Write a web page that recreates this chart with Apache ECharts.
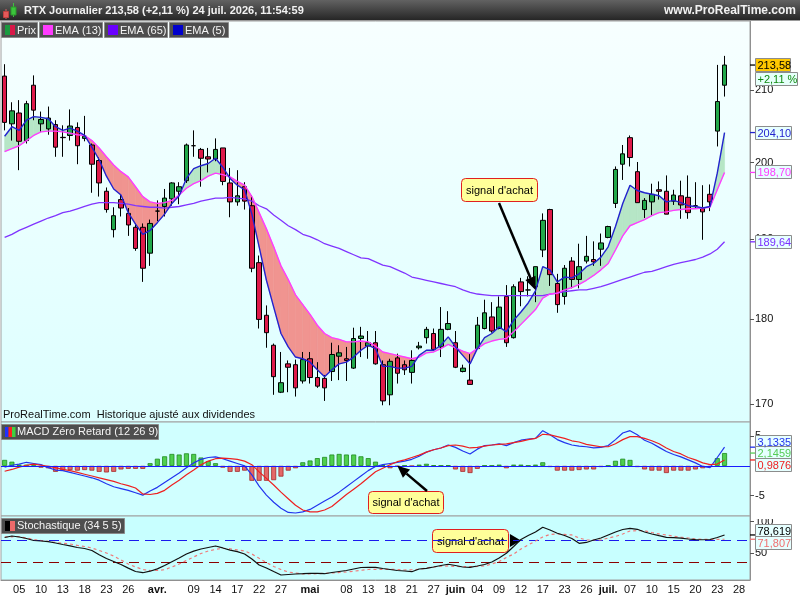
<!DOCTYPE html>
<html>
<head>
<meta charset="utf-8">
<title>RTX Journalier</title>
<script src="https://cdn.jsdelivr.net/npm/echarts@6.0.0/dist/echarts.min.js"></script>
<style>
html,body{margin:0;padding:0;background:#ffffff;}
#chart{width:800px;height:600px;}
</style>
</head>
<body>
<div id="chart"></div>
<script>
// ---------------- DATA ----------------
const dates = ['03-03','03-04','03-05','03-06','03-09','03-10','03-11','03-12','03-13','03-16','03-17','03-18','03-19','03-20','03-23','03-24','03-25','03-26','03-27','03-30','03-31',
'04-01','04-02','04-06','04-07','04-08','04-09','04-10','04-13','04-14','04-15','04-16','04-17','04-20','04-21','04-22','04-23','04-24','04-27','04-28','04-29','04-30',
'05-01','05-04','05-05','05-06','05-07','05-08','05-11','05-12','05-13','05-14','05-15','05-18','05-19','05-20','05-21','05-22','05-26','05-27','05-28','05-29',
'06-01','06-02','06-03','06-04','06-05','06-08','06-09','06-10','06-11','06-12','06-15','06-16','06-17','06-18','06-22','06-23','06-24','06-25','06-26','06-29','06-30',
'07-01','07-02','07-06','07-07','07-08','07-09','07-10','07-13','07-14','07-15','07-16','07-17','07-20','07-21','07-22','07-23','07-24','07-27','07-28','07-29'];

const tickDates = ['03-05','03-10','03-13','03-18','03-23','03-26','04-01','04-09','04-14','04-17','04-22','04-27','05-01','05-08','05-13','05-18','05-21','05-27','06-01','06-04','06-09','06-12','06-17','06-23','06-26','07-01','07-07','07-10','07-15','07-20','07-23','07-28'];
const tickTexts = ['05','10','13','18','23','26','avr.','09','14','17','22','27','mai','08','13','18','21','27','juin','04','09','12','17','23','26','juil.','07','10','15','20','23','28'];
const monthTexts = ['avr.','mai','juin','juil.'];

const open = [212.0,205.3,206.8,203.0,210.7,205.3,204.6,205.2,203.45,203.7,
 204.8,203.3,202.4,200.3,196.2,191.2,195.1,193.3,191.5,191.5,
 188.2,193.6,194.2,195.2,196.2,197.6,202.3,201.8,200.8,200.5,
 202.0,197.3,194.8,196.8,194.3,187.0,180.5,176.9,171.4,174.7,
 174.6,172.7,175.3,173.1,173.0,173.8,175.6,175.3,174.2,177.7,
 176.8,177.2,174.6,171.1,175.4,174.6,173.7,176.6,177.8,178.3,
 176.7,178.8,177.2,173.8,172.8,176.5,178.9,180.3,178.9,182.8,
 177.8,184.6,183.6,184.0,188.6,193.8,184.4,182.8,187.2,184.9,
 187.2,187.4,188.7,190.2,194.6,199.8,203.4,198.8,193.8,194.8,
 196.4,196.2,194.9,195.6,195.4,194.3,194.0,195.8,204.3,210.7];
const high = [213.7,208.3,208.6,208.5,212.1,207.0,207.7,205.8,205.1,207.3,
 205.5,206.4,202.6,200.7,196.7,194.1,195.7,194.0,192.0,192.0,
 192.5,195.0,196.5,197.4,197.4,202.6,204.4,202.0,202.0,203.3,
 202.0,199.3,199.0,197.4,195.7,187.9,181.7,177.1,176.1,175.1,
 175.2,176.1,176.1,174.9,173.4,177.2,176.9,176.7,179.0,179.1,
 178.6,178.6,175.1,175.3,175.9,175.1,176.3,177.3,179.1,178.9,
 181.5,181.0,178.6,174.6,175.9,180.3,182.4,182.1,182.8,184.2,
 184.3,185.1,185.3,186.5,193.3,193.9,185.6,186.7,187.7,189.4,
 190.4,189.7,190.7,191.7,199.5,202.4,203.7,200.1,195.3,197.2,
 197.5,198.3,196.4,197.6,198.3,197.4,197.0,197.1,213.6,214.9];
const low = [204.4,203.0,199.0,202.6,205.8,204.2,203.8,200.8,200.8,203.0,
 199.8,202.9,196.0,195.5,193.4,190.2,192.9,190.4,188.5,184.6,
 186.6,192.3,192.9,194.3,194.5,197.3,200.8,196.8,198.7,200.2,
 197.0,192.8,194.3,193.8,185.8,178.9,176.6,171.1,171.3,171.4,
 170.9,172.4,172.4,171.9,170.4,172.7,172.8,172.7,174.1,175.5,
 175.3,174.6,169.9,169.9,172.4,173.4,172.4,176.4,177.1,176.3,
 175.5,178.7,174.2,173.7,172.3,176.5,178.8,178.4,178.8,176.7,
 177.7,181.6,182.8,182.1,187.7,184.1,180.8,181.8,183.8,183.8,
 186.9,186.6,186.6,190.1,194.0,197.7,199.5,194.7,192.7,193.1,
 195.1,193.2,194.4,192.6,192.6,194.0,189.9,193.6,202.2,209.1];
const close = [205.5,207.1,202.9,208.1,207.2,205.9,206.1,202.1,203.4,205.0,
 202.3,203.6,199.8,197.3,193.8,193.0,194.0,191.8,188.8,186.3,
 192.0,193.6,195.3,197.3,196.8,202.4,202.3,200.6,200.5,201.8,
 197.5,194.8,195.6,194.9,186.3,180.0,178.4,173.2,172.5,174.3,
 171.9,175.2,173.1,172.1,171.9,175.8,176.0,175.1,177.7,178.0,
 177.2,174.7,170.4,175.0,173.6,174.0,175.1,176.8,178.8,176.4,
 178.8,179.5,174.3,174.2,172.3,179.3,180.8,178.6,181.5,177.2,
 184.0,183.4,183.6,186.5,192.4,185.5,181.8,186.3,184.9,186.5,
 187.8,187.1,189.5,191.6,199.1,201.2,200.7,194.7,195.0,195.8,
 196.2,193.2,195.7,194.4,193.4,194.3,193.5,194.8,208.4,213.58];
const changePct = 2.11;

const ema5 = [203.6,204.9,204.4,205.8,206.3,206.2,206.0,204.9,204.4,204.7,
 204.3,203.7,202.1,200.4,198.2,196.5,195.7,193.4,191.9,190.6,
 191.1,192.1,193.2,194.6,195.6,197.9,199.2,199.6,199.9,200.6,
 199.4,197.9,197.0,196.4,193.2,189.0,184.8,181.5,178.3,176.7,
 175.5,175.3,174.9,174.0,173.2,174.0,174.7,174.9,175.5,176.3,
 176.9,176.5,174.4,174.4,174.2,174.2,174.4,175.7,176.3,176.3,
 176.9,177.9,176.7,175.7,174.7,176.5,177.8,178.3,179.1,178.5,
 179.9,180.9,182.0,183.5,186.5,186.1,184.6,185.2,185.1,185.6,
 186.5,186.9,187.7,189.0,191.6,194.6,197.0,196.3,196.0,195.8,
 195.6,194.8,195.0,194.7,194.3,194.2,194.0,194.2,198.6,204.10];
const ema13 = [201.5,201.9,202.3,203.0,203.7,204.2,204.3,204.3,204.2,204.0,
 203.8,203.7,203.0,202.0,200.8,199.7,198.8,198.1,196.8,195.5,
 194.8,194.6,194.7,195.0,195.7,196.6,197.2,197.6,198.2,198.6,
 198.4,198.1,197.5,197.0,195.5,193.4,191.3,189.0,186.6,184.9,
 183.0,181.8,180.6,179.3,178.3,177.8,177.6,177.3,177.3,177.4,
 177.3,176.8,176.1,175.9,175.7,175.5,175.3,175.5,176.0,176.1,
 176.5,177.0,176.6,176.2,175.9,176.5,177.1,177.4,177.6,177.7,
 178.5,179.4,180.3,181.2,182.6,183.1,183.2,183.6,183.9,184.3,
 184.8,185.4,186.1,186.9,188.6,190.4,191.7,192.1,192.5,193.0,
 193.4,193.5,193.7,193.8,193.9,193.9,194.0,194.1,196.4,198.70];
const ema65 = [190.2,190.6,191.1,191.5,191.9,192.3,192.7,193.0,193.4,193.6,
 193.9,194.2,194.5,194.7,194.7,194.7,194.6,194.5,194.3,194.2,
 194.1,194.1,194.0,194.1,194.2,194.4,194.6,194.9,195.1,195.3,
 195.3,195.4,195.3,195.2,194.9,194.3,193.9,193.1,192.4,191.7,
 191.2,190.6,190.3,189.9,189.4,189.1,188.8,188.4,188.0,187.6,
 187.5,187.1,186.7,186.5,186.1,185.7,185.2,185.0,184.8,184.6,
 184.4,184.2,184.0,183.6,183.3,183.1,183.0,182.9,182.9,182.9,
 182.9,182.9,182.9,182.9,182.9,183.1,183.2,183.4,183.5,183.6,
 183.6,183.8,184.0,184.3,184.6,184.9,185.2,185.5,185.8,185.9,
 186.2,186.5,186.8,187.0,187.2,187.4,187.7,188.1,188.7,189.64];

const macd = [-0.2,0.1,0.3,0.6,0.4,0.2,-0.3,-0.7,-0.8,-1.1,
 -1.4,-1.7,-2.0,-2.4,-3.0,-3.5,-3.8,-4.1,-4.5,-4.9,
 -4.2,-3.6,-2.8,-2.0,-1.2,-0.3,0.5,1.1,1.4,1.5,
 1.2,0.8,0.4,0.0,-1.5,-3.4,-4.9,-6.1,-7.1,-7.8,
 -7.9,-7.7,-7.3,-6.6,-5.9,-5.2,-4.4,-3.5,-2.6,-1.7,
 -0.8,-0.1,0.2,0.4,0.6,0.8,1.1,1.6,2.3,2.7,
 3.0,3.5,3.1,2.5,2.0,2.8,3.4,3.5,3.7,3.4,
 3.9,4.3,4.5,4.6,5.9,5.2,4.4,3.9,3.5,3.3,
 3.2,3.0,3.1,3.4,4.4,5.5,5.9,5.2,4.3,3.8,
 3.1,2.4,1.9,1.5,1.0,0.5,-0.1,-0.3,1.4,3.1335];
const signal = [-0.9,-0.6,-0.2,0.1,0.3,0.1,-0.1,-0.3,-0.6,-0.8,
 -1.1,-1.4,-1.7,-2.0,-2.3,-2.6,-3.0,-3.3,-3.7,-4.7,
 -4.8,-4.6,-4.1,-3.2,-2.4,-1.5,-0.7,0.2,0.8,1.2,
 1.3,1.2,1.1,0.8,0.2,-1.0,-2.1,-3.2,-4.4,-5.5,
 -6.6,-7.4,-7.7,-7.7,-7.4,-6.8,-5.8,-4.8,-3.9,-3.0,
 -2.0,-1.0,-0.4,0.2,0.7,1.0,1.4,1.8,2.3,2.7,
 3.0,3.4,3.5,3.3,3.0,3.1,3.3,3.5,3.6,3.7,
 3.9,4.1,4.4,4.6,5.3,5.2,4.9,4.6,4.2,4.0,
 3.6,3.4,3.2,3.2,3.7,4.4,4.9,4.9,4.6,4.2,
 3.7,3.0,2.4,2.0,1.4,1.0,0.5,0.2,0.3,0.9876];
const hist = [1.0,0.7,0.2,0.2,0.3,-0.3,-0.4,-1.0,-0.8,-0.7,
 -0.8,-0.7,-0.8,-1.0,-1.1,-1.0,-0.6,-0.5,-0.5,-0.5,
 0.45,1.2,1.6,2.0,1.9,2.1,2.0,1.4,0.8,0.45,
 -0.3,-1.0,-1.0,-0.8,-2.5,-2.5,-2.5,-2.4,-1.8,-0.8,
 -0.4,0.6,0.9,1.3,1.5,1.9,2.0,1.9,1.9,1.6,
 1.3,0.7,0.1,-0.4,-0.1,0.05,-0.05,0.2,0.35,0.1,
 0.05,0.1,-0.6,-1.0,-1.2,-0.5,0.05,0.05,0.2,-0.4,
 0.2,0.2,0.05,0.2,0.6,-0.2,-0.8,-0.8,-0.8,-0.7,
 -0.6,-0.6,-0.2,0.05,0.85,1.2,1.0,-0.2,-0.6,-0.8,
 -0.8,-1.2,-0.8,-0.8,-0.8,-0.6,-0.4,-0.2,1.3,2.1459];

const stochK = [74.6,77.0,75.4,73.0,69.8,69.0,67.9,65.9,63.5,61.4,
 58.7,57.1,54.0,47.3,41.3,36.5,31.7,26.0,20.6,18.7,
 21.1,24.8,30.2,36.2,42.1,48.4,52.9,56.3,58.7,61.1,
 58.0,54.5,52.2,48.4,40.5,31.0,26.2,20.6,15.1,15.9,
 16.7,17.1,17.8,17.5,17.1,19.0,20.6,22.2,24.6,27.0,
 27.3,27.3,25.4,23.8,22.2,21.4,20.3,24.6,25.7,27.8,
 30.2,32.1,30.2,27.8,27.3,29.4,31.7,35.7,42.1,49.5,
 60.3,71.4,77.8,83.3,90.8,86.5,81.3,77.8,73.0,65.4,
 66.7,70.6,73.8,78.6,83.3,87.3,89.2,87.6,83.3,80.2,
 77.5,74.9,74.3,73.5,72.2,71.1,71.0,71.4,74.6,78.619];
const stochD = [75.4,75.7,75.9,73.8,71.4,69.8,68.3,66.7,65.4,64.3,
 62.2,60.3,57.9,54.0,50.0,45.2,38.9,32.5,27.8,23.8,
 22.2,22.2,23.5,27.8,32.5,38.1,43.7,49.2,53.2,55.6,
 57.5,56.7,54.8,53.2,48.4,41.6,34.9,28.6,23.8,19.8,
 18.3,16.7,16.7,17.1,17.8,18.3,19.0,19.8,21.0,22.5,
 23.8,24.1,24.1,24.1,23.8,23.0,23.5,24.1,26.2,27.8,
 29.0,29.4,28.6,28.3,28.3,28.6,29.4,32.5,36.5,42.9,
 48.4,56.3,62.7,69.0,75.4,79.4,80.2,79.4,78.6,73.8,
 70.6,70.6,70.6,73.8,76.2,80.2,84.9,85.4,85.4,82.5,
 80.2,78.6,76.5,75.1,73.8,72.2,71.7,71.7,71.7,71.807];
const stochLevels = [70, 36];

const priceTicks = [170, 180, 190, 200, 210];
const macdTicks = [5, -5];
const stochTicks = [50, 100];

// ---------------- CHART ----------------
const FONT = '"Liberation Sans", Arial, Helvetica, sans-serif';
const L = Math.log;
const GREEN_FILL = '#b6e6c6', RED_FILL = '#f09490';
const C_EMA5 = '#2323cf', C_EMA13 = '#ff3cff', C_EMA65 = '#8034ff';
const C_MACD = '#2233ee', C_SIG = '#ee2020', C_HIST = '#4fcf4f';
const chart = echarts.init(document.getElementById('chart'), null, {renderer: 'canvas', width: 800, height: 600});

const candleData = open.map((o, i) => [L(o), L(close[i]), L(low[i]), L(high[i])]);
const fillData = ema5.slice(0, -1).map((v, i) => [i, L(v), L(ema13[i])]);

function fillItem(params, api) {
  const i = api.value(0);
  const a5 = api.coord([i, L(ema5[i])]), b5 = api.coord([i + 1, L(ema5[i + 1])]);
  const a13 = api.coord([i, L(ema13[i])]), b13 = api.coord([i + 1, L(ema13[i + 1])]);
  const d0 = ema5[i] - ema13[i], d1 = ema5[i + 1] - ema13[i + 1];
  const col = d => d >= 0 ? GREEN_FILL : RED_FILL;
  const st = c => ({fill: c, stroke: c, lineWidth: 0.6});
  if (d0 * d1 >= 0) {
    const s = d0 !== 0 ? d0 : d1;
    return {type: 'polygon', shape: {points: [a5, b5, b13, a13]}, style: st(col(s))};
  }
  const t = d0 / (d0 - d1);
  const c = [a5[0] + t * (b5[0] - a5[0]), a5[1] + t * (b5[1] - a5[1])];
  return {type: 'group', children: [
    {type: 'polygon', shape: {points: [a5, c, a13]}, style: st(col(d0))},
    {type: 'polygon', shape: {points: [c, b5, b13]}, style: st(col(d1))}
  ]};
}

const GRID_L = 1, GRID_R = 50;
const grids = [
  {left: GRID_L, right: GRID_R, top: 21, height: 401, show: true,
   backgroundColor: {type: 'linear', x: 0, y: 0, x2: 0, y2: 1, colorStops: [{offset: 0, color: '#f7ffff'}, {offset: 1, color: '#dcffff'}]},
   borderColor: '#a0a0a0', borderWidth: 1},
  {left: GRID_L, right: GRID_R, top: 422, height: 94, show: true, backgroundColor: '#d0ffff', borderColor: '#a0a0a0', borderWidth: 1},
  {left: GRID_L, right: GRID_R, top: 516, height: 64, show: true, backgroundColor: '#c8ffff', borderColor: '#a0a0a0', borderWidth: 1}
];

const xAxes = [0, 1, 2].map(k => ({
  type: 'category', gridIndex: k, data: dates, boundaryGap: true,
  axisLine: {show: k === 2, lineStyle: {color: '#909090'}},
  axisTick: {show: false},
  splitLine: {show: false},
  axisLabel: k === 2 ? {
    show: true, margin: 4, fontSize: 11, fontFamily: FONT, color: '#111',
    interval: (idx, val) => tickDates.indexOf(val) >= 0,
    formatter: (val) => {
      const t = tickTexts[tickDates.indexOf(val)];
      return monthTexts.indexOf(t) >= 0 ? '{b|' + t + '}' : t;
    },
    rich: {b: {fontWeight: 'bold', fontSize: 11, fontFamily: FONT, color: '#111'}}
  } : {show: false}
}));

function yAxisBase(k, min, max, ticks, fmt) {
  return {
    type: 'value', gridIndex: k, position: 'right', min: min, max: max,
    axisLine: {show: true, lineStyle: {color: '#909090'}},
    splitLine: {show: false},
    axisTick: {show: true, customValues: ticks, length: 4, lineStyle: {color: '#555'}},
    axisLabel: {customValues: ticks, formatter: fmt, color: '#111', fontSize: 11, fontFamily: FONT, margin: 5}
  };
}

const yAxes = [
  yAxisBase(0, L(168), L(220), priceTicks.map(L), v => String(Math.round(Math.exp(v)))),
  yAxisBase(1, -8.4, 7.35, macdTicks, v => String(Math.round(v))),
  yAxisBase(2, 7.14, 108.7, stochTicks, v => String(Math.round(v)))
];

const lineS = (name, data, color, xi, yi, extra) => Object.assign({
  name: name, type: 'line', xAxisIndex: xi, yAxisIndex: yi, data: data,
  symbol: 'none', showSymbol: false, silent: true, z: 4,
  lineStyle: {color: color, width: 1.4}
}, extra || {});

const option = {
  animation: false,
  backgroundColor: '#ffffff',
  grid: grids,
  xAxis: xAxes,
  yAxis: yAxes,
  series: [
    {type: 'custom', name: 'fill', xAxisIndex: 0, yAxisIndex: 0, data: fillData, renderItem: fillItem,
     encode: {x: 0, y: [1, 2]}, silent: true, z: 1, clip: true},
    {type: 'candlestick', name: 'Prix', xAxisIndex: 0, yAxisIndex: 0, data: candleData, barWidth: 5, silent: true, z: 3,
     itemStyle: {color: '#22a84a', color0: '#de1a4a', borderColor: '#000', borderColor0: '#000', borderColorDoji: '#000', borderWidth: 1}},
    lineS('EMA (65)', ema65.map(L), C_EMA65, 0, 0, {lineStyle: {color: C_EMA65, width: 1.3}}),
    lineS('EMA (13)', ema13.map(L), C_EMA13, 0, 0),
    lineS('EMA (5)', ema5.map(L), C_EMA5, 0, 0),
    {type: 'bar', name: 'hist', xAxisIndex: 1, yAxisIndex: 1, barWidth: 5, silent: true, z: 2,
     data: hist.map(v => ({value: v, itemStyle: v >= 0 ? {color: C_HIST, borderColor: '#1f8a1f', borderWidth: 0.8} : {color: '#e46868', borderColor: '#a32828', borderWidth: 0.8}})),
     markLine: {silent: true, symbol: 'none', label: {show: false}, lineStyle: {color: '#1a1aff', width: 1.2, type: 'solid'}, data: [{yAxis: 0}]}},
    lineS('MACD', macd, C_MACD, 1, 1, {lineStyle: {color: C_MACD, width: 1.2}}),
    lineS('Signal', signal, C_SIG, 1, 1, {lineStyle: {color: C_SIG, width: 1.2}}),
    lineS('%D', stochD, '#f07878', 2, 2, {lineStyle: {color: '#f07878', width: 1.2, type: [3, 3]}}),
    lineS('%K', stochK, '#111111', 2, 2, {lineStyle: {color: '#111111', width: 1.2},
      markLine: {silent: true, symbol: 'none', label: {show: false}, z: 3,
        data: [{yAxis: stochLevels[0], lineStyle: {color: '#1a1aee', width: 1, type: [10, 6]}},
               {yAxis: stochLevels[1], lineStyle: {color: '#8b0000', width: 1, type: [10, 6]}}]}})
  ]
};
chart.setOption(option);

// ---------------- DECORATIONS ----------------
const g = [];
function rect(x, y, w, h, fill, stroke, z, r) {
  return {type: 'rect', shape: {x: x, y: y, width: w, height: h, r: r || 0}, style: {fill: fill, stroke: stroke || null, lineWidth: stroke ? 1 : 0}, z: z == null ? 10 : z, silent: true};
}
function text(x, y, t, fill, font, align, z) {
  return {type: 'text', x: x, y: y, style: {text: t, fill: fill, font: font, align: align || 'left', verticalAlign: 'middle'}, z: z == null ? 11 : z, silent: true};
}
function line(x1, y1, x2, y2, color, w, z) {
  return {type: 'line', shape: {x1: x1, y1: y1, x2: x2, y2: y2}, style: {stroke: color, lineWidth: w || 1}, z: z == null ? 12 : z, silent: true};
}
function poly(points, fill, z) {
  return {type: 'polygon', shape: {points: points}, style: {fill: fill}, z: z == null ? 12 : z, silent: true};
}
function arrowHead(tip, from, len, hw) {
  const dx = tip[0] - from[0], dy = tip[1] - from[1];
  const d = Math.sqrt(dx * dx + dy * dy);
  const ux = dx / d, uy = dy / d;
  const bx = tip[0] - ux * len, by = tip[1] - uy * len;
  return [tip, [bx - uy * hw, by + ux * hw], [bx + uy * hw, by - ux * hw]];
}
const fmt = (v, n) => v.toFixed(n).replace('.', ',');

// title bar
g.push({type: 'rect', shape: {x: 0, y: 0, width: 800, height: 20},
  style: {fill: new echarts.graphic.LinearGradient(0, 0, 0, 1, [{offset: 0, color: '#626262'}, {offset: 1, color: '#262626'}])}, z: 10, silent: true});
g.push(rect(0, 20, 800, 1, '#9a9a9a', null, 10));
g.push(line(6, 9, 6, 19, '#d86060', 1, 12));
g.push(rect(3.5, 11.5, 5, 6, '#e25a5a', '#c04040', 12));
g.push(line(13.5, 3, 13.5, 17, '#40c040', 1, 12));
g.push(rect(11, 7, 5, 8, '#3cc43c', '#2a9a2a', 12));
g.push(text(24, 10.5, 'RTX Journalier ' + fmt(close[close.length - 1], 2) + ' (+' + fmt(changePct, 2) + ' %) 24 juil. 2026, 11:54:59', '#f2f2f2', 'bold 11px ' + FONT, 'left', 12));
g.push(text(796, 10.5, 'www.ProRealTime.com', '#f2f2f2', 'bold 12px ' + FONT, 'right', 12));

// legend boxes
const legendItems = [
  {x: 1, w: 36, label: 'Prix', icon: ['#1a9a40', '#d81848']},
  {x: 39, w: 63, label: 'EMA (13)', icon: [C_EMA13]},
  {x: 104, w: 63, label: 'EMA (65)', icon: ['#6a00ff']},
  {x: 169, w: 59, label: 'EMA (5)', icon: ['#0000cc']}
];
legendItems.forEach(it => {
  g.push(rect(it.x + 0.5, 22.5, it.w, 15, '#4e4e4e', '#8a8a8a', 10));
  if (it.icon.length === 2) {
    g.push(rect(it.x + 4, 25, 5, 10, it.icon[0], null, 11));
    g.push(rect(it.x + 9, 25, 5, 10, it.icon[1], null, 11));
  } else {
    g.push(rect(it.x + 4, 25, 10, 10, it.icon[0], null, 11));
  }
  g.push(text(it.x + 16, 30.5, it.label, '#f4f4f4', '11px ' + FONT, 'left', 11));
});

g.push(text(3, 415, 'ProRealTime.com  Historique ajusté aux dividendes', '#111', '11px ' + FONT, 'left', 6));

// MACD label
g.push(rect(1.5, 424.5, 157, 15, '#4e4e4e', '#8a8a8a', 10));
g.push(rect(5, 427, 3.5, 10, '#2030ff', null, 11));
g.push(rect(8.5, 427, 3.5, 10, '#ff2020', null, 11));
g.push(rect(12, 427, 3.5, 10, '#40d040', null, 11));
g.push(text(17, 432, 'MACD Zéro Retard (12 26 9)', '#f4f4f4', '11px ' + FONT, 'left', 11));

// Stoch label
g.push(rect(1.5, 518.5, 123, 15, '#4e4e4e', '#8a8a8a', 10));
g.push(rect(5, 521, 5, 10, '#000000', null, 11));
g.push(rect(10, 521, 5, 10, '#ee6a6a', null, 11));
g.push(text(17, 526, 'Stochastique (34 5 5)', '#f4f4f4', '11px ' + FONT, 'left', 11));

// cover for clipped "100" label on stoch axis
g.push(rect(751, 506, 49, 13, '#ffffff', null, 5));

// value tags on right axis
function tagAt(yVal, yBox, label, color, bg, w, tickColor) {
  g.push(line(750, yVal, 755, yVal, tickColor || color, 1.3, 20));
  g.push(rect(755.5, Math.round(yBox) - 6.5, w, 13, bg, '#8c8c8c', 20));
  g.push(text(757.5, Math.round(yBox) + 0.5, label, color, '11px ' + FONT, 'left', 21));
}
function spread(items, gap) {
  const sorted = items.slice().sort((a, b) => a.y - b.y);
  const mean0 = sorted.reduce((s, a) => s + a.y, 0) / sorted.length;
  sorted.forEach((a, i) => { a.yb = i === 0 ? a.y : Math.max(a.y, sorted[i - 1].yb + gap); });
  const mean1 = sorted.reduce((s, a) => s + a.yb, 0) / sorted.length;
  sorted.forEach(a => { a.yb += mean0 - mean1; });
  return sorted;
}
const last = close.length - 1;
const py = v => chart.convertToPixel({yAxisIndex: 0}, L(v));
const yClose = py(close[last]);
tagAt(yClose, yClose, fmt(close[last], 2), '#000', '#ffc800', 35, '#000');
g.push(rect(755.5, Math.round(yClose) + 7.5, 42, 13, '#e6fffa', '#8c8c8c', 20));
g.push(text(757.5, Math.round(yClose) + 14.5, '+' + fmt(changePct, 2) + ' %', '#118a11', '11px ' + FONT, 'left', 21));
[[ema5[last], C_EMA5], [ema13[last], C_EMA13], [ema65[last], '#7a2eff']].forEach(([v, c]) => {
  const y = py(v);
  tagAt(y, y, fmt(v, 2), c, '#e6ffff', 36);
});
const my = v => chart.convertToPixel({yAxisIndex: 1}, v);
spread([
  {y: my(macd[last]), label: fmt(macd[last], 4), c: C_MACD},
  {y: my(hist[last]), label: fmt(hist[last], 4), c: '#55cc55'},
  {y: my(signal[last]), label: fmt(signal[last], 4), c: C_SIG}
], 11.5).forEach(a => tagAt(a.y, a.yb, a.label, a.c, '#e6ffff', 36));
const sy = v => chart.convertToPixel({yAxisIndex: 2}, v);
spread([
  {y: sy(stochK[last]), label: fmt(stochK[last], 3), c: '#000'},
  {y: sy(stochD[last]), label: fmt(stochD[last], 3), c: '#f07070'}
], 12).forEach(a => tagAt(a.y, a.yb, a.label, a.c, '#e6ffff', 36));

// annotations "signal d'achat"
function noteBox(x, y, w, h, z) {
  g.push(rect(x + 0.5, y + 0.5, w, h, '#ffff99', '#e02020', z, 4));
  g.push(text(x + w / 2 + 0.5, y + h / 2 + 1, "signal d'achat", '#000', '11px ' + FONT, 'center', z + 1));
}
// price panel
noteBox(461, 178, 76, 23, 8);
const tipP = chart.convertToPixel({gridIndex: 0}, [73, L(183.6)]);
const fromP = [499, 203];
const headP = arrowHead(tipP, fromP, 13, 5.5);
g.push(line(fromP[0], fromP[1], (headP[1][0] + headP[2][0]) / 2, (headP[1][1] + headP[2][1]) / 2, '#000', 2.5, 9));
g.push(poly(headP, '#000', 9));
// MACD panel
noteBox(368, 491, 75, 22, 8);
const tipM = chart.convertToPixel({gridIndex: 1}, [54, 0]);
const fromM = [427, 491];
const headM = arrowHead(tipM, fromM, 12, 5.5);
g.push(line(fromM[0], fromM[1], (headM[1][0] + headM[2][0]) / 2, (headM[1][1] + headM[2][1]) / 2, '#000', 2.5, 9));
g.push(poly(headM, '#000', 9));
// stochastic panel (box below series so the level line crosses it)
g.push(rect(432.5, 529.5, 76, 23, '#ffff99', '#e02020', 1, 4));
g.push(text(470.5, 541.5, "signal d'achat", '#000', '11px ' + FONT, 'center', 1));
const tipS = chart.convertToPixel({gridIndex: 2}, [71, stochLevels[0]]);
g.push(poly([tipS, [tipS[0] - 11, tipS[1] - 6.5], [tipS[0] - 11, tipS[1] + 6.5]], '#000', 1));

chart.setOption({graphic: g});
</script>
</body>
</html>
